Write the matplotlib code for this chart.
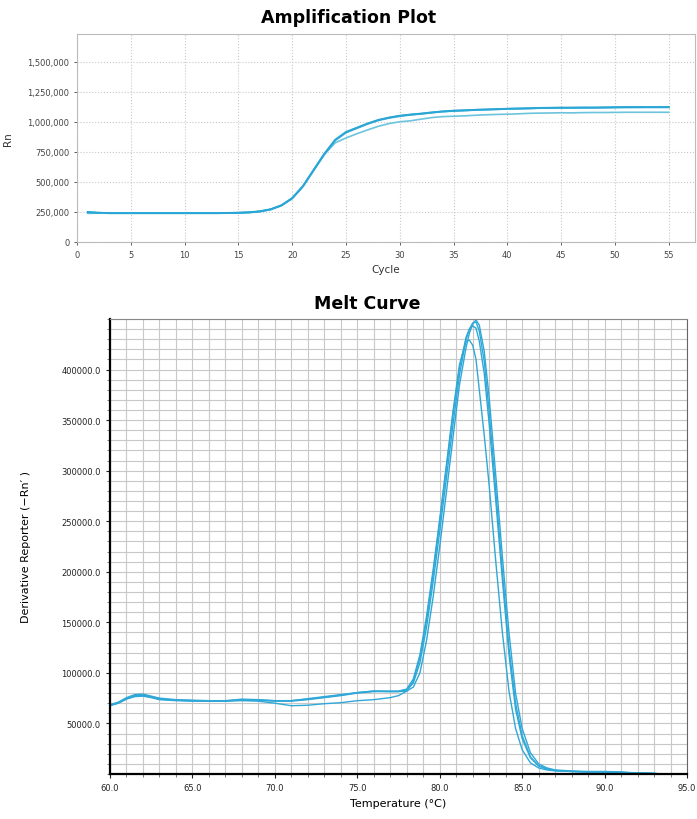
import numpy as np
import matplotlib
matplotlib.use("Agg")
import matplotlib.pyplot as plt
from matplotlib.ticker import MultipleLocator, FuncFormatter

# amplification plot data (Rn per cycle)
cycles = list(range(1, 56))
amp_hi = [250000, 243000, 240000, 240000, 240000, 240000, 240000, 240000, 240000, 240000,
          240000, 240000, 240000, 241000, 243000, 247000, 255000, 272000, 305000, 365000,
          465000, 600000, 735000, 850000, 915000, 950000, 985000, 1015000, 1035000, 1050000,
          1060000, 1068000, 1078000, 1086000, 1092000, 1095000, 1099000, 1102000, 1105000, 1108000,
          1110000, 1112000, 1115000, 1116000, 1117000, 1117000, 1118000, 1118000, 1119000, 1121000,
          1122000, 1122000, 1122000, 1122000, 1122000]
amp_mid = [245000, 242000, 240000, 240000, 240000, 240000, 240000, 240000, 240000, 240000,
           240000, 240000, 240000, 241000, 242000, 245000, 253000, 270000, 303000, 362000,
           462000, 598000, 732000, 846000, 910000, 946000, 982000, 1012000, 1032000, 1047000,
           1058000, 1066000, 1076000, 1085000, 1090000, 1094000, 1098000, 1101000, 1104000, 1107000,
           1109000, 1111000, 1114000, 1115000, 1116000, 1116000, 1117000, 1117000, 1118000, 1119000,
           1120000, 1120000, 1121000, 1121000, 1121000]
amp_lo = [238000, 240000, 240000, 240000, 240000, 240000, 240000, 240000, 240000, 240000,
          240000, 240000, 240000, 241000, 243000, 246000, 254000, 271000, 304000, 363000,
          463000, 597000, 728000, 825000, 865000, 900000, 932000, 962000, 985000, 1000000,
          1008000, 1022000, 1035000, 1043000, 1046000, 1049000, 1054000, 1058000, 1061000, 1063000,
          1066000, 1070000, 1072000, 1073000, 1075000, 1074000, 1076000, 1077000, 1077000, 1078000,
          1079000, 1079000, 1079000, 1079000, 1079000]

# melt curve data (derivative reporter per temperature)
temps = [60.0, 60.5, 61.0, 61.5, 62.0, 62.5, 63.0, 64.0, 65.0, 66.0, 67.0, 68.0, 69.0, 70.0,
         71.0, 72.0, 73.0, 74.0, 75.0, 76.0, 77.0, 77.5, 78.0, 78.4, 78.8, 79.2, 79.6, 80.0,
         80.4, 80.8, 81.2, 81.6, 81.8, 82.0, 82.2, 82.4, 82.7, 83.0, 83.4, 83.8, 84.2, 84.6,
         85.0, 85.5, 86.0, 86.5, 87.0, 88.0, 89.0, 90.0, 91.0, 92.0, 93.0, 93.5]
melt_a = [68000, 70500, 74500, 77500, 78000, 76500, 74500, 73000, 72500, 72000, 72000, 73500,
          73000, 72000, 72000, 73500, 75500, 77500, 80000, 81500, 81500, 81500, 83000, 90000,
          110000, 145000, 190000, 240000, 292000, 345000, 395000, 430000, 440000, 446000, 447000,
          438000, 408000, 358000, 280000, 200000, 125000, 70000, 38000, 17000, 8000, 5000, 3500,
          2500, 2000, 2000, 1500, 1000, 500, 0]
melt_b = [68500, 71000, 75500, 78500, 79000, 77000, 75000, 73500, 73000, 72500, 72500, 74000,
          73500, 72500, 72500, 74500, 76500, 78500, 80500, 82000, 81500, 81500, 82000, 86000,
          100000, 132000, 175000, 225000, 278000, 332000, 385000, 422000, 436000, 445000, 449000,
          444000, 418000, 372000, 295000, 215000, 140000, 80000, 45000, 21000, 10000, 6000, 4000,
          3000, 2500, 2500, 2000, 1000, 500, 0]
melt_c = [67500, 70000, 74000, 76500, 77000, 75500, 73500, 72500, 72000, 72000, 72000, 72500,
          72000, 70000, 67500, 68000, 69500, 70500, 72500, 73500, 75500, 77500, 82000, 92000,
          115000, 152000, 198000, 250000, 302000, 355000, 402000, 432000, 440000, 443000, 441000,
          428000, 396000, 346000, 270000, 192000, 118000, 64000, 35000, 16000, 8000, 5000, 3500,
          2500, 2000, 2000, 1500, 1000, 500, 0]
melt_d = [68000, 70000, 74500, 77000, 77500, 76000, 74000, 73000, 72500, 72500, 72500, 73000,
          73000, 72500, 72500, 74000, 76000, 78000, 80500, 82000, 82000, 82000, 84000, 94000,
          118000, 156000, 202000, 252000, 305000, 358000, 405000, 428000, 429000, 424000, 410000,
          380000, 335000, 285000, 210000, 140000, 82000, 45000, 24000, 11000, 6000, 4000, 3000,
          2500, 2000, 2000, 1500, 1000, 500, 0]

narrow = ['Liberation Sans Narrow', 'DejaVu Sans Condensed', 'DejaVu Sans']

fig = plt.figure(figsize=(6.97, 8.2), dpi=100)

# ---- amplification plot
ax1 = fig.add_axes([0.1105, 0.7037, 0.886, 0.2536])
ax1.plot(cycles, amp_lo, color='#6cc4dc', lw=1.2)
ax1.plot(cycles, amp_mid, color='#3fb0d8', lw=1.4)
ax1.plot(cycles, amp_hi, color='#2aa6d6', lw=1.4)
ax1.set_xlim(0, 57.4)
ax1.set_ylim(0, 1730000)
ax1.xaxis.set_major_locator(MultipleLocator(5))
ax1.yaxis.set_major_locator(MultipleLocator(250000))
ax1.yaxis.set_major_formatter(FuncFormatter(lambda v, p: f"{int(v):,}"))
ax1.grid(True, ls=':', color='#c8c8c8', lw=0.8)
for s in ax1.spines.values():
    s.set_color('#bbbbbb')
    s.set_linewidth(0.8)
ax1.tick_params(colors='#444444', labelsize=6, length=2, width=0.6)
for lab in ax1.get_xticklabels() + ax1.get_yticklabels():
    lab.set_family(narrow)
ax1.set_xlabel('Cycle', fontsize=7.5, family=narrow, color='#333333', labelpad=4)
ax1.set_ylabel('Rn', fontsize=7.5, family=narrow, color='#333333', labelpad=10)
fig.text(0.5, 0.978, 'Amplification Plot', ha='center', va='center', fontsize=12.5,
         fontweight='bold', family=narrow)

# ---- melt curve
ax2 = fig.add_axes([0.1578, 0.0549, 0.8279, 0.5549])
for vals in [melt_c, melt_d, melt_a, melt_b]:
    ax2.plot(temps, vals, color='#2fa8d8', lw=1.0)
ax2.set_xlim(60, 95)
ax2.set_ylim(0, 450000)
ax2.set_xticks(np.arange(60, 96, 5))
ax2.set_yticks(np.arange(50000, 400001, 50000))
ax2.xaxis.set_minor_locator(MultipleLocator(1))
ax2.yaxis.set_minor_locator(MultipleLocator(10000))
ax2.xaxis.set_major_formatter(FuncFormatter(lambda v, p: f"{v:.1f}"))
ax2.yaxis.set_major_formatter(FuncFormatter(lambda v, p: f"{v:.1f}"))
ax2.grid(True, which='both', color='#c8c8c8', lw=0.8)
ax2.set_axisbelow(True)
ax2.spines['left'].set_linewidth(1.6)
ax2.spines['bottom'].set_linewidth(1.6)
ax2.spines['top'].set_color('#888888')
ax2.spines['right'].set_color('#666666')
ax2.tick_params(which='major', labelsize=6, length=3, width=0.8, colors='#222222')
ax2.tick_params(which='minor', length=2, width=0.6, colors='#666666')
ax2.set_xlabel('Temperature (°C)', fontsize=8, labelpad=4)
ax2.set_ylabel('Derivative Reporter (\u2212Rn\u2032 )', fontsize=8, family=narrow, labelpad=22)
fig.text(0.527, 0.629, 'Melt Curve', ha='center', va='center', fontsize=12.5,
         fontweight='heavy', family='DejaVu Sans')

fig.savefig('out.png', dpi=100)
